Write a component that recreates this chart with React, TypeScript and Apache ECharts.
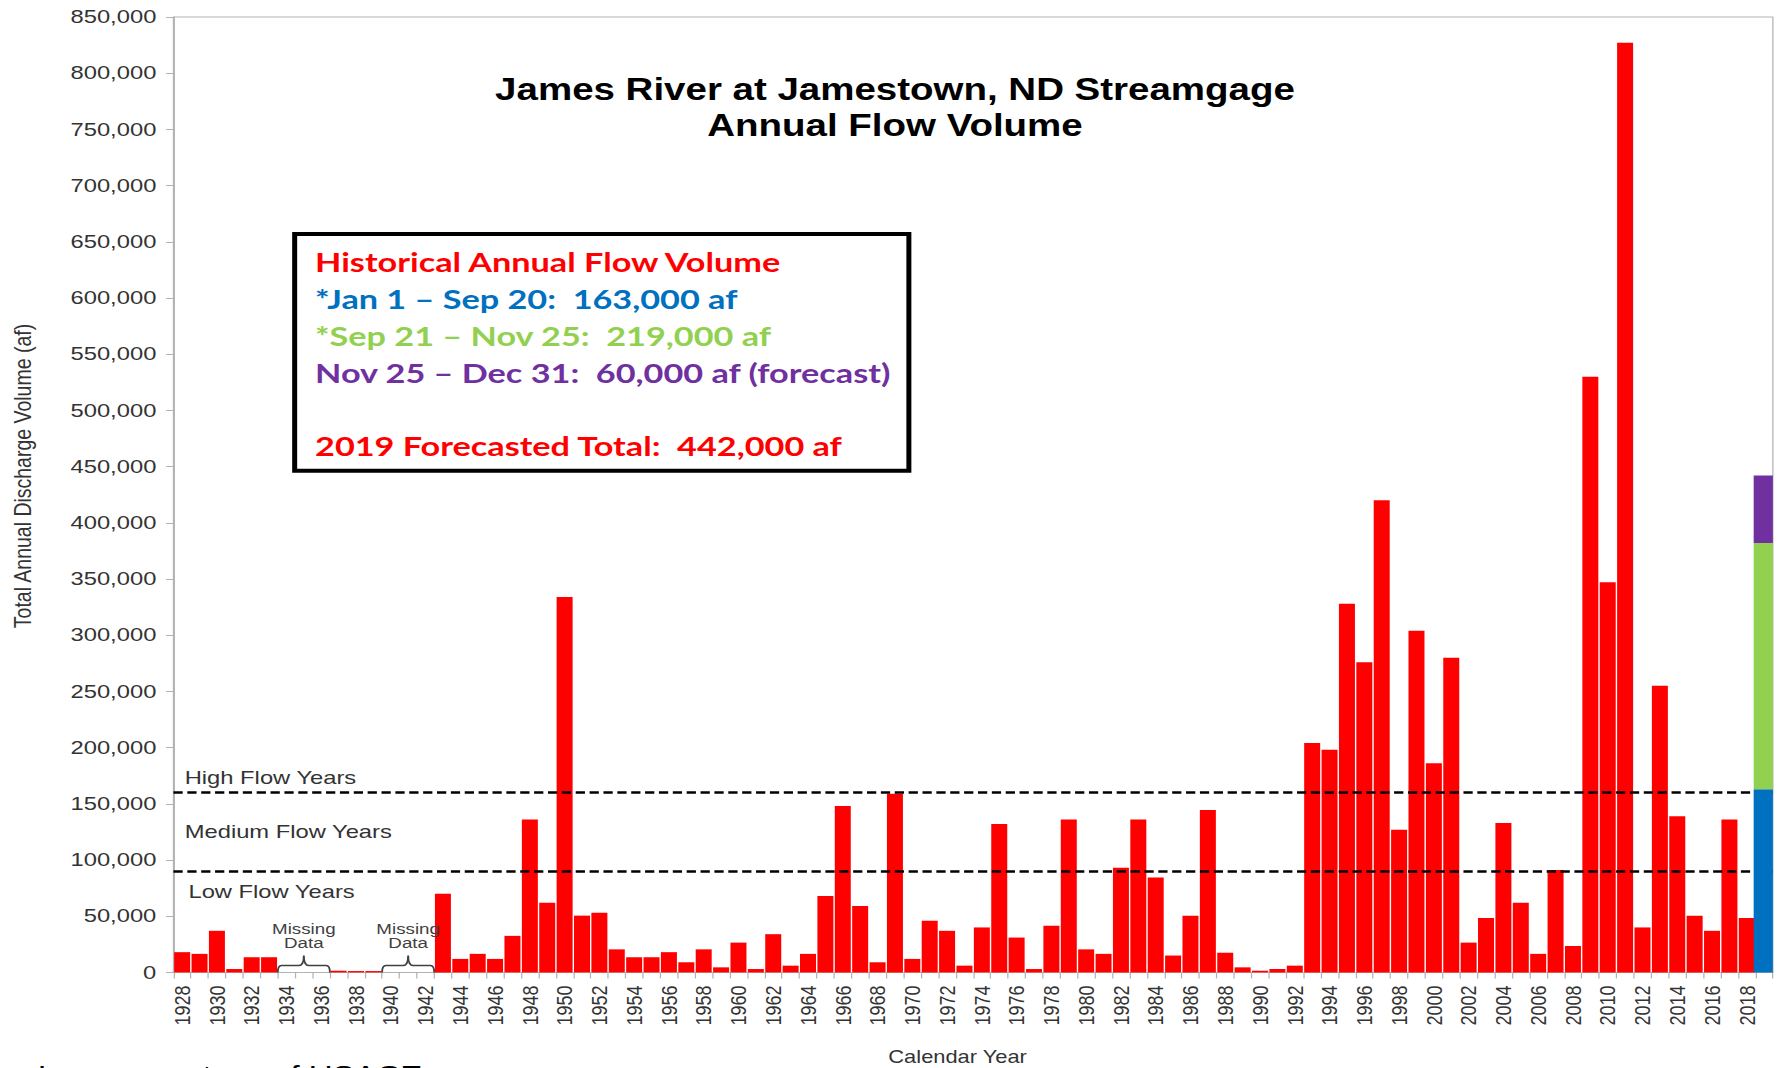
import React, { useEffect, useRef } from "react";
import * as echarts from "echarts";

// The original chart picture is horizontally stretched; we draw at natural
// proportions and stretch the whole chart with a CSS scaleX.
const OUT_W = 1777;
const W = 1422;
const H = 1068;
const SX = OUT_W / W;

const FONT = "'Liberation Sans', Arial, sans-serif";
const BOX_FONT = "Lato, 'Noto Sans', sans-serif";

const FIRST_YEAR = 1928;
const LAST_YEAR = 2019;
const YEARS: string[] = [];
for (let y = FIRST_YEAR; y <= LAST_YEAR; y++) YEARS.push(String(y));

// Annual flow volume (acre-feet), 1928 – 2018 (null = missing data)
const ANNUAL_FLOW: (number | null)[] = [
  // 1928-1937
  18000, 16500, 37000, 3000, 13500, 13500, null, null, null, 1500,
  // 1938-1947
  1200, 1200, null, null, null, 70000, 12000, 16500, 12000, 32500,
  // 1948-1957
  136000, 62000, 334000, 50500, 53000, 20500, 13500, 13500, 18000, 9000,
  // 1958-1967
  20500, 4500, 26500, 3000, 34000, 6000, 16500, 68000, 148000, 59000,
  // 1968-1977
  9000, 159000, 12000, 46000, 37000, 6000, 40000, 132000, 31000, 3000,
  // 1978-1987
  41500, 136000, 20500, 16500, 93000, 136000, 84500, 15000, 50500, 144500,
  // 1988-1997
  17500, 4500, 1500, 3000, 6000, 204000, 198000, 328000, 276000, 420000,
  // 1998-2007
  127000, 304000, 186000, 280000, 26500, 48500, 133000, 62000, 16500, 91000,
  // 2008-2018
  23500, 530000, 347000, 827000, 40000, 255000, 139000, 50500, 37000, 136000, 48500,
];

// 2019 components
const PARTS_2019 = [163000, 219000, 60000];
const PART_LABELS = ["*Jan 1 – Sep 20:", "*Sep 21 – Nov 25:", "Nov 25 – Dec 31:"];
const PART_COLORS = ["#0070C0", "#92D050", "#7030A0"];
const TOTAL_2019 = 442000;

const HIGH_FLOW = 160000;
const LOW_FLOW = 90000;

const MISSING_RANGES: [string, string][] = [
  ["1934", "1936"],
  ["1940", "1942"],
];

const Y_MIN = 0;
const Y_MAX = 850000;
const Y_STEP = 50000;

const FLOW_LABELS = [
  { text: "High Flow Years", value: HIGH_FLOW + 13000 },
  { text: "Medium Flow Years", value: (HIGH_FLOW + LOW_FLOW) / 2 },
  { text: "Low Flow Years", value: LOW_FLOW - 18000 },
];

const fmt = (v: number) => v.toLocaleString("en-US");

export default function App() {
  const ref = useRef<HTMLDivElement>(null);

  useEffect(() => {
    if (!ref.current) return;
    const chart = echarts.init(ref.current, null, { renderer: "svg", width: W, height: H });

    const redData = [...ANNUAL_FLOW, null];
    const partSeries = PARTS_2019.map((v, i) => ({
      type: "bar",
      name: PART_LABELS[i],
      stack: "y2019",
      xAxisIndex: 1,
      data: YEARS.map((y) => (y === String(LAST_YEAR) ? v : null)),
      barWidth: "121%",
      itemStyle: { color: PART_COLORS[i] },
      z: 10,
      silent: true,
    }));

    const legendLines = [
      { text: "Historical Annual Flow Volume", color: "#FF0000" },
      ...PARTS_2019.map((v, i) => ({
        text: `${PART_LABELS[i]}  ${fmt(v)} af${i === 2 ? " (forecast)" : ""}`,
        color: PART_COLORS[i],
      })),
      { text: "", color: "#000" },
      { text: `${LAST_YEAR} Forecasted Total:  ${fmt(TOTAL_2019)} af`, color: "#FF0000" },
    ];

    const option: any = {
      animation: false,
      grid: {
        left: 138.8,
        right: 3.3,
        top: 17,
        bottom: 95.6,
        show: true,
        borderColor: "#b3b3b3",
        borderWidth: 1,
      },
      xAxis: [
        {
          type: "category",
          data: YEARS,
          boundaryGap: true,
          axisLine: { lineStyle: { color: "#b3b3b3", width: 1 } },
          axisTick: {
            show: true,
            interval: 0,
            alignWithLabel: false,
            length: 6,
            lineStyle: { color: "#b3b3b3" },
          },
          axisLabel: {
            interval: 1,
            rotate: 90,
            fontSize: 18,
            fontFamily: FONT,
            color: "#333",
            margin: 13,
          },
          splitLine: { show: false },
        },
        { type: "category", data: YEARS, show: false },
      ],
      yAxis: {
        type: "value",
        min: Y_MIN,
        max: Y_MAX,
        interval: Y_STEP,
        axisLine: { show: true, lineStyle: { color: "#b3b3b3", width: 1 } },
        axisTick: { show: true, length: 6, lineStyle: { color: "#b3b3b3" } },
        axisLabel: {
          fontSize: 19,
          fontFamily: FONT,
          color: "#333",
          margin: 13.7,
          formatter: (v: number) => fmt(v),
        },
        splitLine: { show: false },
      },
      series: [
        {
          type: "bar",
          name: "Historical Annual Flow Volume",
          data: redData,
          xAxisIndex: 0,
          barCategoryGap: "8%",
          itemStyle: { color: "#FF0000" },
          z: 2,
          silent: true,
          markLine: {
            silent: true,
            symbol: ["none", "none"],
            label: { show: false },
            z: 5,
            lineStyle: { color: "#000", type: [7.4, 3.7], width: 2.7 },
            data: [{ yAxis: HIGH_FLOW }, { yAxis: LOW_FLOW }],
          },
        },
        ...partSeries,
        {
          type: "custom",
          name: "missing",
          xAxisIndex: 0,
          z: 6,
          silent: true,
          data: MISSING_RANGES.map(([a, b]) => [YEARS.indexOf(a), YEARS.indexOf(b), 0]),
          encode: { x: [0, 1], y: 2 },
          renderItem: (params: any, api: any) => {
            const s = api.value(0);
            const e = api.value(1);
            const band = api.size([1, 0])[0];
            const p0 = api.coord([s, 0]);
            const p1 = api.coord([e, 0]);
            const x0 = p0[0] - band / 2;
            const x1 = p1[0] + band / 2;
            const yb = p0[1];
            const xm = (x0 + x1) / 2;
            const h1 = 7;
            const h2 = 17;
            const r = 3;
            const rt = 4;
            const d =
              `M${x0},${yb} Q${x0},${yb - h1} ${x0 + r},${yb - h1} ` +
              `L${xm - rt},${yb - h1} Q${xm},${yb - h1} ${xm},${yb - h2} ` +
              `Q${xm},${yb - h1} ${xm + rt},${yb - h1} ` +
              `L${x1 - r},${yb - h1} Q${x1},${yb - h1} ${x1},${yb}`;
            return {
              type: "group",
              children: [
                {
                  type: "path",
                  shape: { pathData: d },
                  style: { fill: "none", stroke: "#404040", lineWidth: 1.5 },
                },
                {
                  type: "text",
                  style: {
                    text: "Missing\nData",
                    x: xm,
                    y: yb - 36,
                    textAlign: "center",
                    textVerticalAlign: "middle",
                    fontSize: 15,
                    lineHeight: 14,
                    fontFamily: FONT,
                    fill: "#404040",
                  },
                },
              ],
            };
          },
        },
        {
          type: "custom",
          name: "flowLabels",
          xAxisIndex: 0,
          z: 6,
          silent: true,
          data: FLOW_LABELS.map((l) => [0, l.value]),
          encode: { x: 0, y: 1 },
          renderItem: (params: any, api: any) => {
            const i = params.dataIndex;
            const p = api.coord([0, api.value(1)]);
            const indent = i === 2 ? 12 : 9;
            return {
              type: "text",
              style: {
                text: FLOW_LABELS[i].text,
                x: params.coordSys.x + indent,
                y: p[1],
                textAlign: "left",
                textVerticalAlign: "middle",
                fontSize: 19,
                fontFamily: FONT,
                fill: "#333",
              },
            };
          },
        },
      ],
      graphic: {
        elements: [
          {
            type: "text",
            x: 716.2,
            y: 70.4,
            style: {
              text: "James River at Jamestown, ND Streamgage\nAnnual Flow Volume",
              textAlign: "center",
              textVerticalAlign: "top",
              fontSize: 30.8,
              lineHeight: 36.5,
              fontWeight: "bold",
              fontFamily: FONT,
              fill: "#000",
            },
            z: 20,
          },
          {
            type: "rect",
            shape: { x: 235.8, y: 234, width: 491.5, height: 236.7 },
            style: { fill: "#fff", stroke: "#000", lineWidth: 4 },
            z: 20,
          },
          ...legendLines.map((l, i) => ({
            type: "text",
            x: 252.1,
            y: 261.8 + i * 36.7,
            style: {
              text: l.text,
              textAlign: "left",
              textVerticalAlign: "middle",
              fontSize: 27.4,
              fontWeight: "bold",
              fontFamily: BOX_FONT,
              fill: l.color,
            },
            z: 21,
          })),
          {
            type: "text",
            x: 18,
            y: 476,
            rotation: Math.PI / 2,
            style: {
              text: "Total Annual Discharge Volume (af)",
              textAlign: "center",
              textVerticalAlign: "middle",
              fontSize: 19.5,
              fontFamily: FONT,
              fill: "#333",
            },
            z: 20,
          },
          {
            type: "text",
            x: 766.3,
            y: 1057,
            style: {
              text: "Calendar Year",
              textAlign: "center",
              textVerticalAlign: "middle",
              fontSize: 17.5,
              fontFamily: FONT,
              fill: "#333",
            },
            z: 20,
          },
          {
            type: "text",
            x: 30,
            y: 1075,
            style: {
              text: "Image courtesy of USACE",
              textAlign: "left",
              textVerticalAlign: "middle",
              fontSize: 26.4,
              fontFamily: FONT,
              fill: "#000",
            },
            z: 20,
          },
        ],
      },
    };

    chart.setOption(option);
    return () => chart.dispose();
  }, []);

  return (
    <div
      ref={ref}
      style={{
        position: "absolute",
        left: 0,
        top: 0,
        width: W,
        height: H,
        transform: `scaleX(${SX})`,
        transformOrigin: "0 0",
        background: "#fff",
      }}
    />
  );
}
